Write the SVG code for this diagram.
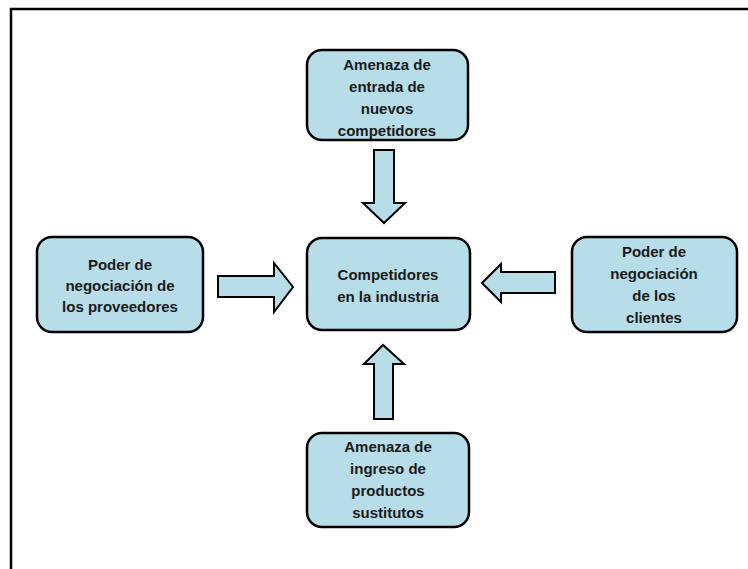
<svg xmlns="http://www.w3.org/2000/svg" width="748" height="569" viewBox="0 0 748 569">
<style>
.box{fill:#b7dde8;stroke:#000;stroke-width:2.5}
.arr{fill:#b7dde8;stroke:#000;stroke-width:2;stroke-linejoin:miter}
.t{font-family:"Liberation Sans",Arial,sans-serif;font-weight:bold;font-size:15px;fill:#1a1a1a;text-anchor:middle}
</style>
<rect width="748" height="569" fill="#fff"/>
<path d="M11,569 V9 H748" fill="none" stroke="#000" stroke-width="2.5"/>
<g id="connectors">
<polygon class="arr" points="374,150 394,150 394,203 405,203 384,223 363,203 374,203"/>
<polygon class="arr" points="374,419 393,419 393,364 404,364 383,345 364,364 374,364"/>
<polygon class="arr" points="218,276 274,276 274,263 293,287 274,312 274,297 218,297"/>
<polygon class="arr" points="555,272 501,272 501,264 482,283 501,302 501,293 555,293"/>
</g>
<g id="top">
<rect class="box" x="307" y="50" width="161" height="90" rx="15"/>
<text class="t" x="387" y="70">Amenaza de</text>
<text class="t" x="387" y="92">entrada de</text>
<text class="t" x="387" y="114">nuevos</text>
<text class="t" x="387" y="136">competidores</text>
</g>
<g id="center">
<rect class="box" x="307" y="238" width="163" height="92" rx="15"/>
<text class="t" x="388" y="280">Competidores</text>
<text class="t" x="388" y="302">en la industria</text>
</g>
<g id="left">
<rect class="box" x="37" y="237" width="166" height="95" rx="15"/>
<text class="t" x="120" y="270">Poder de</text>
<text class="t" x="120" y="291">negociación de</text>
<text class="t" x="120" y="312">los proveedores</text>
</g>
<g id="right">
<rect class="box" x="572" y="237" width="165" height="95" rx="15"/>
<text class="t" x="654" y="257">Poder de</text>
<text class="t" x="654" y="279">negociación</text>
<text class="t" x="654" y="301">de los</text>
<text class="t" x="654" y="323">clientes</text>
</g>
<g id="bottom">
<rect class="box" x="307" y="433" width="162" height="94" rx="15"/>
<text class="t" x="388" y="452">Amenaza de</text>
<text class="t" x="388" y="474">ingreso de</text>
<text class="t" x="388" y="496">productos</text>
<text class="t" x="388" y="518">sustitutos</text>
</g>
</svg>
